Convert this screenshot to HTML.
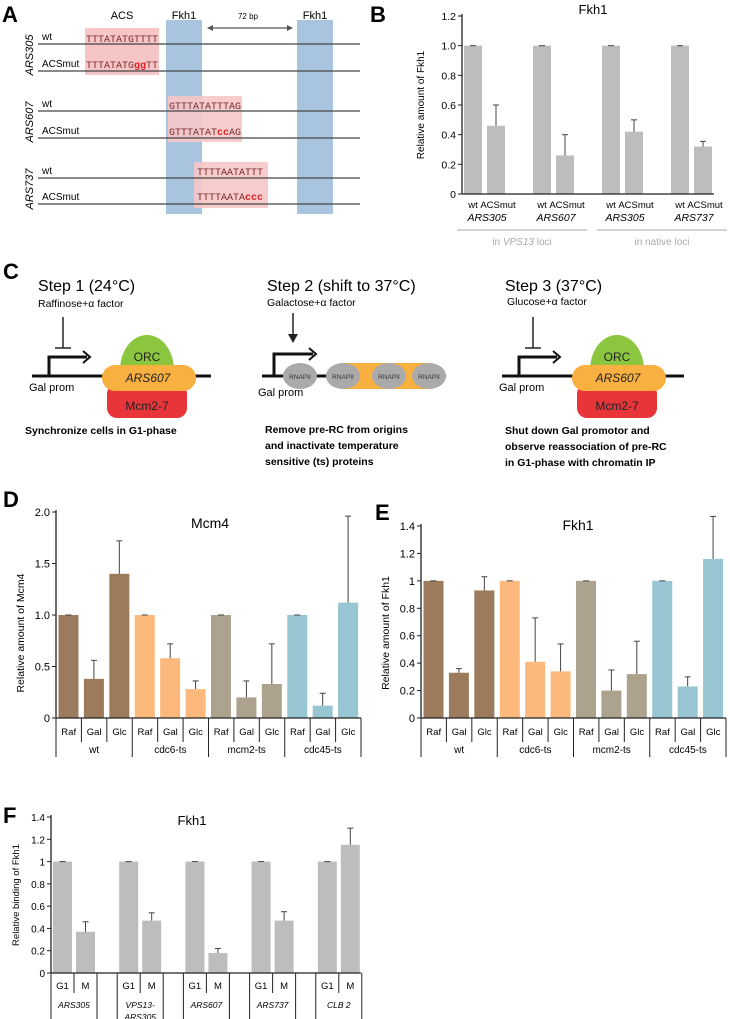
<!DOCTYPE html>
<html><head><meta charset="utf-8"><style>
body{margin:0;background:#fff}
svg{display:block;font-family:"Liberation Sans",sans-serif}
.seq{font-family:"Liberation Mono",monospace;font-size:10px;fill:#7a2a2a}
</style></head><body>
<svg id="fig" width="730" height="1019" viewBox="0 0 730 1019" xmlns="http://www.w3.org/2000/svg">
<!-- Panel A -->
<g>
<text x="2" y="22" font-size="22" font-weight="bold">A</text>
<rect x="166" y="20" width="36" height="194" fill="#a9c4de"/>
<rect x="297" y="20" width="36" height="194" fill="#a9c4de"/>
<rect x="85" y="28" width="74" height="47" fill="#f6c6c6"/>
<rect x="168" y="96" width="74" height="46" fill="#f6c6c6" opacity="0.9"/>
<rect x="194" y="162" width="74" height="46" fill="#f6c6c6" opacity="0.9"/>
<text x="122" y="19" font-size="11" text-anchor="middle">ACS</text>
<text x="184" y="19" font-size="11" text-anchor="middle">Fkh1</text>
<text x="248" y="19" font-size="8" text-anchor="middle">72 bp</text>
<text x="315" y="19" font-size="11" text-anchor="middle">Fkh1</text>
<g stroke="#555" stroke-width="1.2" fill="#555">
<line x1="212" y1="28" x2="288" y2="28"/><path d="M207 28 l6 -3 v6z M293 28 l-6 -3 v6z" stroke="none"/></g>
<g stroke="#444" stroke-width="1.2">
<line x1="38" y1="44" x2="360" y2="44"/><line x1="38" y1="71" x2="360" y2="71"/>
<line x1="38" y1="111" x2="360" y2="111"/><line x1="38" y1="138" x2="360" y2="138"/>
<line x1="38" y1="178" x2="360" y2="178"/><line x1="38" y1="204" x2="360" y2="204"/></g>
<g font-size="10">
<text x="42" y="40">wt</text>
<text x="42" y="67">ACSmut</text>
<text x="42" y="107">wt</text>
<text x="42" y="134">ACSmut</text>
<text x="42" y="174">wt</text>
<text x="42" y="200">ACSmut</text>
</g>
<g font-size="11" font-style="italic">
<text transform="translate(33,55) rotate(-90)" text-anchor="middle">ARS305</text>
<text transform="translate(33,122) rotate(-90)" text-anchor="middle">ARS607</text>
<text transform="translate(33,189) rotate(-90)" text-anchor="middle">ARS737</text>
</g>
<text class="seq" x="86" y="42">TTTATATGTTTT</text>
<text class="seq" x="86" y="68">TTTATATG<tspan fill="#e0202a" font-weight="bold">gg</tspan>TT</text>
<text class="seq" x="169" y="109">GTTTATATTTAG</text>
<text class="seq" x="169" y="135">GTTTATAT<tspan fill="#e0202a" font-weight="bold">cc</tspan>AG</text>
<text class="seq" x="197" y="175">TTTTAATATTT</text>
<text class="seq" x="197" y="200">TTTTAATA<tspan fill="#e0202a" font-weight="bold">ccc</tspan></text>
</g>
<text x="370" y="22" font-size="22" font-weight="bold">B</text>
<text x="3" y="279" font-size="22" font-weight="bold">C</text>
<text x="3" y="507" font-size="22" font-weight="bold">D</text>
<text x="375" y="520" font-size="22" font-weight="bold">E</text>
<text x="3" y="823" font-size="22" font-weight="bold">F</text>
<!-- Panel C -->
<g>
<text x="38" y="291" font-size="16">Step 1 (24°C)</text>
<text x="38" y="307" font-size="10.5">Raffinose+α factor</text>
<text x="267" y="291" font-size="16">Step 2 (shift to 37°C)</text>
<text x="267" y="306" font-size="10.5">Galactose+α factor</text>
<text x="505" y="291" font-size="16">Step 3 (37°C)</text>
<text x="507" y="305" font-size="10.5">Glucose+α factor</text>
<g>
<line x1="63" y1="317" x2="63" y2="348" stroke="#222" stroke-width="1.5"/><line x1="55" y1="348" x2="71" y2="348" stroke="#222" stroke-width="1.5"/>
<path d="M49 376 V357 H87" fill="none" stroke="#111" stroke-width="3"/><path d="M83 351 l7 6 l-7 6" fill="none" stroke="#111" stroke-width="2"/>
<line x1="32" y1="376" x2="211" y2="376" stroke="#111" stroke-width="3"/>
<path d="M120 370 A27 35 0 0 1 174 370 Z" fill="#8cc63f"/>
<text x="147" y="361" font-size="12" text-anchor="middle" fill="#222">ORC</text>
<rect x="107" y="384" width="80" height="34" rx="10" fill="#e8353a"/>
<text x="147" y="410" font-size="12" text-anchor="middle" fill="#222">Mcm2-7</text>
<rect x="102" y="365" width="94" height="26" rx="13" fill="#f8b040"/>
<text x="148" y="382" font-size="12" font-style="italic" text-anchor="middle" fill="#222">ARS607</text>
<text x="29" y="391" font-size="11">Gal prom</text>
</g>
<text x="25" y="434" font-size="10.5" font-weight="bold">Synchronize cells in G1-phase</text>
<g>
<line x1="293" y1="313" x2="293" y2="336" stroke="#222" stroke-width="1.5"/><path d="M288 334 l5 9 l5 -9z" fill="#222"/>
<path d="M274 376 V354 H313" fill="none" stroke="#111" stroke-width="3"/><path d="M309 348 l7 6 l-7 6" fill="none" stroke="#111" stroke-width="2"/>
<line x1="262" y1="376" x2="446" y2="376" stroke="#111" stroke-width="3"/>
<rect x="330" y="363" width="112" height="26" rx="13" fill="#f8b040"/>
<g font-size="6.5" text-anchor="middle" fill="#333">
<ellipse cx="300" cy="376" rx="17" ry="13" fill="#aaa"/><text x="300" y="379">RNAPII</text>
<ellipse cx="343" cy="376" rx="17" ry="13" fill="#aaa"/><text x="343" y="379">RNAPII</text>
<ellipse cx="389" cy="376" rx="17" ry="13" fill="#aaa"/><text x="389" y="379">RNAPII</text>
<ellipse cx="429" cy="376" rx="17" ry="13" fill="#aaa"/><text x="429" y="379">RNAPII</text></g>
<text x="258" y="396" font-size="11">Gal prom</text>
</g>
<g font-size="10.5" font-weight="bold">
<text x="265" y="433">Remove pre-RC from origins</text><text x="265" y="449">and inactivate temperature</text><text x="265" y="465">sensitive (ts) proteins</text></g>
<g transform="translate(470,0)">
<line x1="63" y1="317" x2="63" y2="348" stroke="#222" stroke-width="1.5"/><line x1="55" y1="348" x2="71" y2="348" stroke="#222" stroke-width="1.5"/>
<path d="M49 376 V357 H87" fill="none" stroke="#111" stroke-width="3"/><path d="M83 351 l7 6 l-7 6" fill="none" stroke="#111" stroke-width="2"/>
<line x1="32" y1="376" x2="214" y2="376" stroke="#111" stroke-width="3"/>
<path d="M120 370 A27 35 0 0 1 174 370 Z" fill="#8cc63f"/>
<text x="147" y="361" font-size="12" text-anchor="middle" fill="#222">ORC</text>
<rect x="107" y="384" width="80" height="34" rx="10" fill="#e8353a"/>
<text x="147" y="410" font-size="12" text-anchor="middle" fill="#222">Mcm2-7</text>
<rect x="102" y="365" width="94" height="26" rx="13" fill="#f8b040"/>
<text x="148" y="382" font-size="12" font-style="italic" text-anchor="middle" fill="#222">ARS607</text>
<text x="29" y="391" font-size="11">Gal prom</text>
</g>
<g font-size="10.5" font-weight="bold">
<text x="505" y="434">Shut down Gal promotor and</text><text x="505" y="450">observe reassociation of pre-RC</text><text x="505" y="466">in G1-phase with chromatin IP</text></g>
</g>
<g id="chartB"></g>
<g id="chartD"></g>
<g id="chartE"></g>
<g id="chartF"></g>
</svg>
<script>
// Panel B data
const bLoci = ['ARS305','ARS607','ARS305','ARS737'];
const bConds = ['wt','ACSmut'];
const bWt = [1,1,1,1];
const bMut = [0.46,0.26,0.42,0.32];
const bMutErr = [0.14,0.14,0.08,0.035];
const bTicks = [0,0.2,0.4,0.6,0.8,1.0,1.2];
const bTickLabels = ['0','0.2','0.4','0.6','0.8','1.0','1.2'];
// Panel D data
const dGroups = ['wt','cdc6-ts','mcm2-ts','cdc45-ts'];
const dConds = ['Raf','Gal','Glc'];
const dVals = [1,0.38,1.4, 1,0.58,0.28, 1,0.2,0.33, 1,0.12,1.12];
const dErr = [0,0.18,0.32, 0,0.14,0.08, 0,0.16,0.39, 0,0.12,0.84];
const dTicks = [0,0.5,1.0,1.5,2.0];
const dTickLabels = ['0','0.5','1.0','1.5','2.0'];
// Panel E data
const eVals = [1,0.33,0.93, 1,0.41,0.34, 1,0.2,0.32, 1,0.23,1.16];
const eErr = [0,0.03,0.1, 0,0.32,0.2, 0,0.15,0.24, 0,0.07,0.31];
const eTicks = [0,0.2,0.4,0.6,0.8,1.0,1.2,1.4];
const eTickLabels = ['0','0.2','0.4','0.6','0.8','1','1.2','1.4'];
// Panel F data
const fLoci = ['ARS305','VPS13-|ARS305','ARS607','ARS737','CLB 2'];
const fConds = ['G1','M'];
const fG1 = [1,1,1,1,1];
const fM = [0.37,0.47,0.18,0.47,1.15];
const fMErr = [0.09,0.07,0.04,0.08,0.15];
const fTicks = [0,0.2,0.4,0.6,0.8,1,1.2,1.4];
const fTickLabels = ['0','0.2','0.4','0.6','0.8','1','1.2','1.4'];

const NS='http://www.w3.org/2000/svg';
function mk(parent,tag,attrs,txt){const e=document.createElementNS(NS,tag);for(const k in attrs)e.setAttribute(k,attrs[k]);if(txt!==undefined)e.textContent=txt;parent.appendChild(e);return e;}
function lin(d0,d1,r0,r1){return v=>r0+(v-d0)/(d1-d0)*(r1-r0);}
function axisY(g,x,y,ticks,labels,fs){
  let l=mk(g,'line',{x1:x,x2:x,y1:y(ticks[ticks.length-1])-2,y2:y(0),stroke:'#222','stroke-width':1.3});
  
  
  ticks.forEach((t,i)=>{
    mk(g,'line',{x1:x-4,x2:x,y1:y(t),y2:y(t),stroke:'#222','stroke-width':1});
    let tx=mk(g,'text',{x:x-6,y:y(t)+4,'font-size':fs,'text-anchor':'end'},labels[i]);
    
    
  });
}
function bar(g,x,w,y,v,err,color){
  let r=mk(g,'rect',{x:x,y:y(v),width:w,height:y(0)-y(v),fill:color});
  
  
  const cx=x+w/2;
  if(err>0){mk(g,'line',{x1:cx,x2:cx,y1:y(v),y2:y(v+err),stroke:'#444','stroke-width':1});
  mk(g,'line',{x1:cx-3,x2:cx+3,y1:y(v+err),y2:y(v+err),stroke:'#444','stroke-width':1});}
  else mk(g,'line',{x1:cx-3,x2:cx+3,y1:y(v),y2:y(v),stroke:'#444','stroke-width':1});
}
// Chart B
(function(){
  const g=document.getElementById('chartB');
  const y=lin(0,1.2,194,16), ax=462;
  mk(g,'text',{x:593,y:14,'font-size':13,'text-anchor':'middle'},'Fkh1');
  mk(g,'text',{transform:'translate(424,105) rotate(-90)','font-size':10,'text-anchor':'middle'},'Relative amount of Fkh1');
  bLoci.forEach((loc,i)=>{
    const gx=ax+69*i;
    bar(g,gx+2,18,y,bWt[i],0,'#bdbdbd');
    bar(g,gx+25,18,y,bMut[i],bMutErr[i],'#bdbdbd');
    mk(g,'text',{x:gx+11,y:208,'font-size':9.5,'text-anchor':'middle'},bConds[0]);
    mk(g,'text',{x:gx+36,y:208,'font-size':9.5,'text-anchor':'middle'},bConds[1]);
    let t=mk(g,'text',{x:gx+25,y:221,'font-size':10.5,'font-style':'italic','text-anchor':'middle'},loc);
    
    
  });
  mk(g,'line',{x1:ax,x2:714,y1:194,y2:194,stroke:'#222','stroke-width':1.3});
  axisY(g,ax,y,bTicks,bTickLabels,10.5);
  mk(g,'line',{x1:457,x2:587,y1:230,y2:230,stroke:'#aaa','stroke-width':1});
  mk(g,'line',{x1:597,x2:727,y1:230,y2:230,stroke:'#aaa','stroke-width':1});
  const t1=mk(g,'text',{x:522,y:245,'font-size':10,'text-anchor':'middle',fill:'#aaa'});
  t1.innerHTML='in <tspan font-style="italic">VPS13</tspan> loci';
  mk(g,'text',{x:662,y:245,'font-size':10,'text-anchor':'middle',fill:'#aaa'},'in native loci');
})();
// Charts D & E
const colors=['#9c7b5c','#fdb97c','#ada28d','#98c5d2'];
function groupChart(id,ax,yFn,vals,errs,ticks,labels,title,tx,ty,ytitle){
  const g=document.getElementById(id);
  const slot=305/12;
  mk(g,'text',{x:tx,y:ty,'font-size':14,'text-anchor':'middle'},title);
  mk(g,'text',{transform:'translate('+(ax-32)+',633) rotate(-90)','font-size':10.5,'text-anchor':'middle'},ytitle);
  vals.forEach((v,i)=>{
    const gi=Math.floor(i/3);
    bar(g,ax+slot*i+2.5,20,yFn,v,errs[i],colors[gi]);
    mk(g,'text',{x:ax+slot*(i+0.5),y:735,'font-size':9.5,'text-anchor':'middle'},dConds[i%3]);
    mk(g,'line',{x1:ax+slot*i,x2:ax+slot*i,y1:718,y2:i%3==0?757:742,stroke:'#222','stroke-width':1});
  });
  mk(g,'line',{x1:ax+slot*12,x2:ax+slot*12,y1:718,y2:757,stroke:'#222','stroke-width':1});
  dGroups.forEach((gr,i)=>{
    let t=mk(g,'text',{x:ax+slot*(3*i+1.5),y:753,'font-size':10,'text-anchor':'middle'},gr);
    
    
  });
  mk(g,'line',{x1:ax,x2:ax+slot*12,y1:718,y2:718,stroke:'#222','stroke-width':1.3});
  axisY(g,ax,yFn,ticks,labels,11);
}
groupChart('chartD',56,lin(0,2.0,718,512),dVals,dErr,dTicks,dTickLabels,'Mcm4',210,528,'Relative amount of Mcm4');
groupChart('chartE',421,lin(0,1.4,718,526),eVals,eErr,eTicks,eTickLabels,'Fkh1',578,530,'Relative amount of Fkh1');
// Chart F
(function(){
  const g=document.getElementById('chartF');
  const y=lin(0,1.4,973,817), ax=51;
  mk(g,'text',{x:192,y:825,'font-size':13,'text-anchor':'middle'},'Fkh1');
  mk(g,'text',{transform:'translate(19,895) rotate(-90)','font-size':9.5,'text-anchor':'middle'},'Relative binding of Fkh1');
  fLoci.forEach((loc,i)=>{
    const gx=ax+66.2*i;
    bar(g,gx+2,19,y,fG1[i],0,'#bdbdbd');
    bar(g,gx+25,19,y,fM[i],fMErr[i],'#bdbdbd');
    mk(g,'text',{x:gx+11.5,y:989,'font-size':9.5,'text-anchor':'middle'},fConds[0]);
    mk(g,'text',{x:gx+34.5,y:989,'font-size':9.5,'text-anchor':'middle'},fConds[1]);
    mk(g,'line',{x1:gx,x2:gx,y1:973,y2:1019,stroke:'#222','stroke-width':1});
    mk(g,'line',{x1:gx+46,x2:gx+46,y1:973,y2:1019,stroke:'#222','stroke-width':1});
    mk(g,'line',{x1:gx+23,x2:gx+23,y1:973,y2:993,stroke:'#222','stroke-width':1});
    const parts=loc.split('|');
    parts.forEach((p,k)=>{
      let t=mk(g,'text',{x:gx+23,y:1008+k*12,'font-size':8.5,'font-style':'italic','text-anchor':'middle'},p);
      
      
    });
  });
  mk(g,'line',{x1:ax,x2:361,y1:973,y2:973,stroke:'#222','stroke-width':1.3});
  axisY(g,ax,y,fTicks,fTickLabels,10);
})();
</script>
</body></html>
